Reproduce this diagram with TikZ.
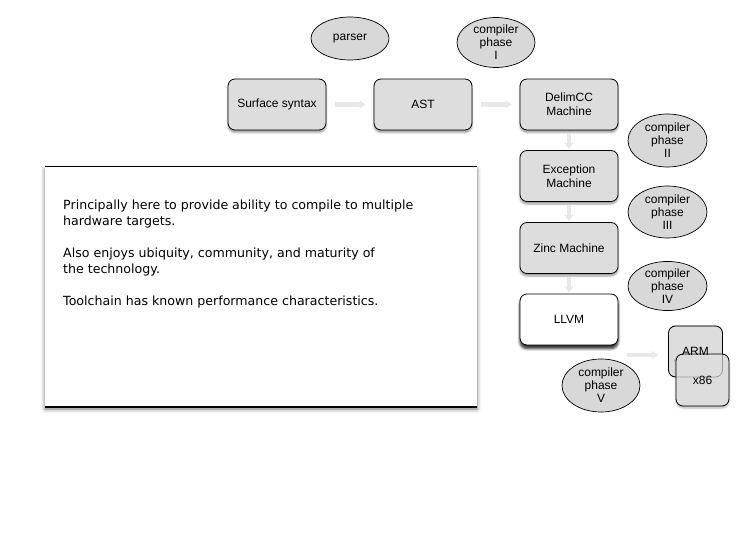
\documentclass[tikz,border=0pt]{standalone}
\usepackage{fontspec}
\setmainfont{Liberation Sans}
\newfontfamily\boxfont{DejaVu Sans}
\usetikzlibrary{shapes.geometric,shadows,shadows.blur,arrows.meta}
\definecolor{boxgray}{RGB}{221,221,221}
\definecolor{ellgray}{RGB}{216,216,216}
\definecolor{arrgray}{RGB}{232,232,232}
\tikzset{
  stage/.style={draw=black, line width=0.8pt, rounded corners=7pt, fill=boxgray,
    minimum width=98pt, minimum height=51pt, align=center,
    font=\fontsize{12}{14}\selectfont,
    blur shadow={shadow xshift=0pt, shadow yshift=-2.5pt, shadow blur radius=2pt, shadow opacity=40}},
  target/.style={draw=black, line width=0.8pt, rounded corners=7pt, fill=boxgray,
    minimum width=54pt, minimum height=51pt, align=center,
    font=\fontsize{12}{14}\selectfont},
  phase/.style={ellipse, draw=black, line width=0.7pt, fill=ellgray,
    minimum width=78pt, minimum height=50pt, inner sep=0pt, align=center,
    font=\fontsize{12}{13}\selectfont},
  flow/.style={arrgray, line width=4.5pt, -{Triangle[length=6pt,width=8pt]}},
}
\begin{document}
\begin{tikzpicture}[x=1pt,y=-1pt]
\useasboundingbox (0,0) rectangle (756,553);
% text panel
\node[draw=none, fill=white, minimum width=432pt, minimum height=240pt, inner sep=0pt,
  blur shadow={shadow xshift=0pt, shadow yshift=-2pt, shadow blur radius=4pt, shadow opacity=55}] (panel) at (261,287) {};
\draw[line width=0.6pt] (panel.north west) -- (panel.north east);
\draw[line width=1.4pt] (panel.south west) -- (panel.south east);
\node[anchor=north west, align=left, inner sep=0pt, font=\boxfont\fontsize{12.6}{16}\selectfont] (txt) at (63,199.5)
 {Principally here to provide ability to compile to multiple\\
  hardware targets.\\[16pt]
  Also enjoys ubiquity, community, and maturity of\\
  the technology.\\[16pt]
  Toolchain has known performance characteristics.};
% stages
\node[stage] (surf) at (277,104.5) {Surface syntax};
\node[stage] (ast) at (423,104.5) {AST};
\node[stage] (delim) at (569,104.5) {DelimCC\\Machine};
\node[stage] (exc) at (569,176) {Exception\\Machine};
\node[stage] (zinc) at (569,248) {Zinc Machine};
\node[stage, fill=white, blur shadow={shadow xshift=0pt, shadow yshift=-3.5pt, shadow blur radius=2.5pt, shadow opacity=55}] (llvm) at (569,319.5) {LLVM};
% targets: ARM box behind, x86 in front, ARM outline and label seen through
\node[target] (armbox) at (695.5,351.5) {};
\node[target, minimum width=53pt, minimum height=52pt,
  blur shadow={shadow xshift=0pt, shadow yshift=-2pt, shadow blur radius=2pt, shadow opacity=30}] (x86) at (702.5,380) {x86};
\node[target, fill=none, draw opacity=0.3] (arm) at (armbox.center) {ARM};
% phases
\node[phase, minimum height=43pt] (parser) at (350,38.5) {parser};
\node[phase] (p1) at (496,42.5) {compiler\\phase\\I};
\node[phase, minimum width=79pt, minimum height=53pt] (p2) at (667.5,140.5) {compiler\\phase\\II};
\node[phase, minimum width=79pt, minimum height=52pt] (p3) at (667.5,212) {compiler\\phase\\III};
\node[phase, minimum width=79pt, minimum height=49pt] (p4) at (667.5,286) {compiler\\phase\\IV};
\node[phase, minimum height=53pt] (p5) at (601,385.5) {compiler\\phase\\V};
% flow arrows
\draw[flow, shorten <=9pt, shorten >=8pt] (surf.east) -- (ast.west);
\draw[flow, shorten <=9pt, shorten >=8pt] (ast.east) -- (delim.west);
\draw[flow, shorten <=3pt, shorten >=1pt] (delim.south) -- (exc.north);
\draw[flow, shorten <=3pt, shorten >=1pt] (exc.south) -- (zinc.north);
\draw[flow, shorten <=3pt, shorten >=1pt] (zinc.south) -- (llvm.north);
\coordinate (t0) at (627,355);
\coordinate (t1) at (658,355);
\draw[flow] (t0) -- (t1);
\end{tikzpicture}
\end{document}
